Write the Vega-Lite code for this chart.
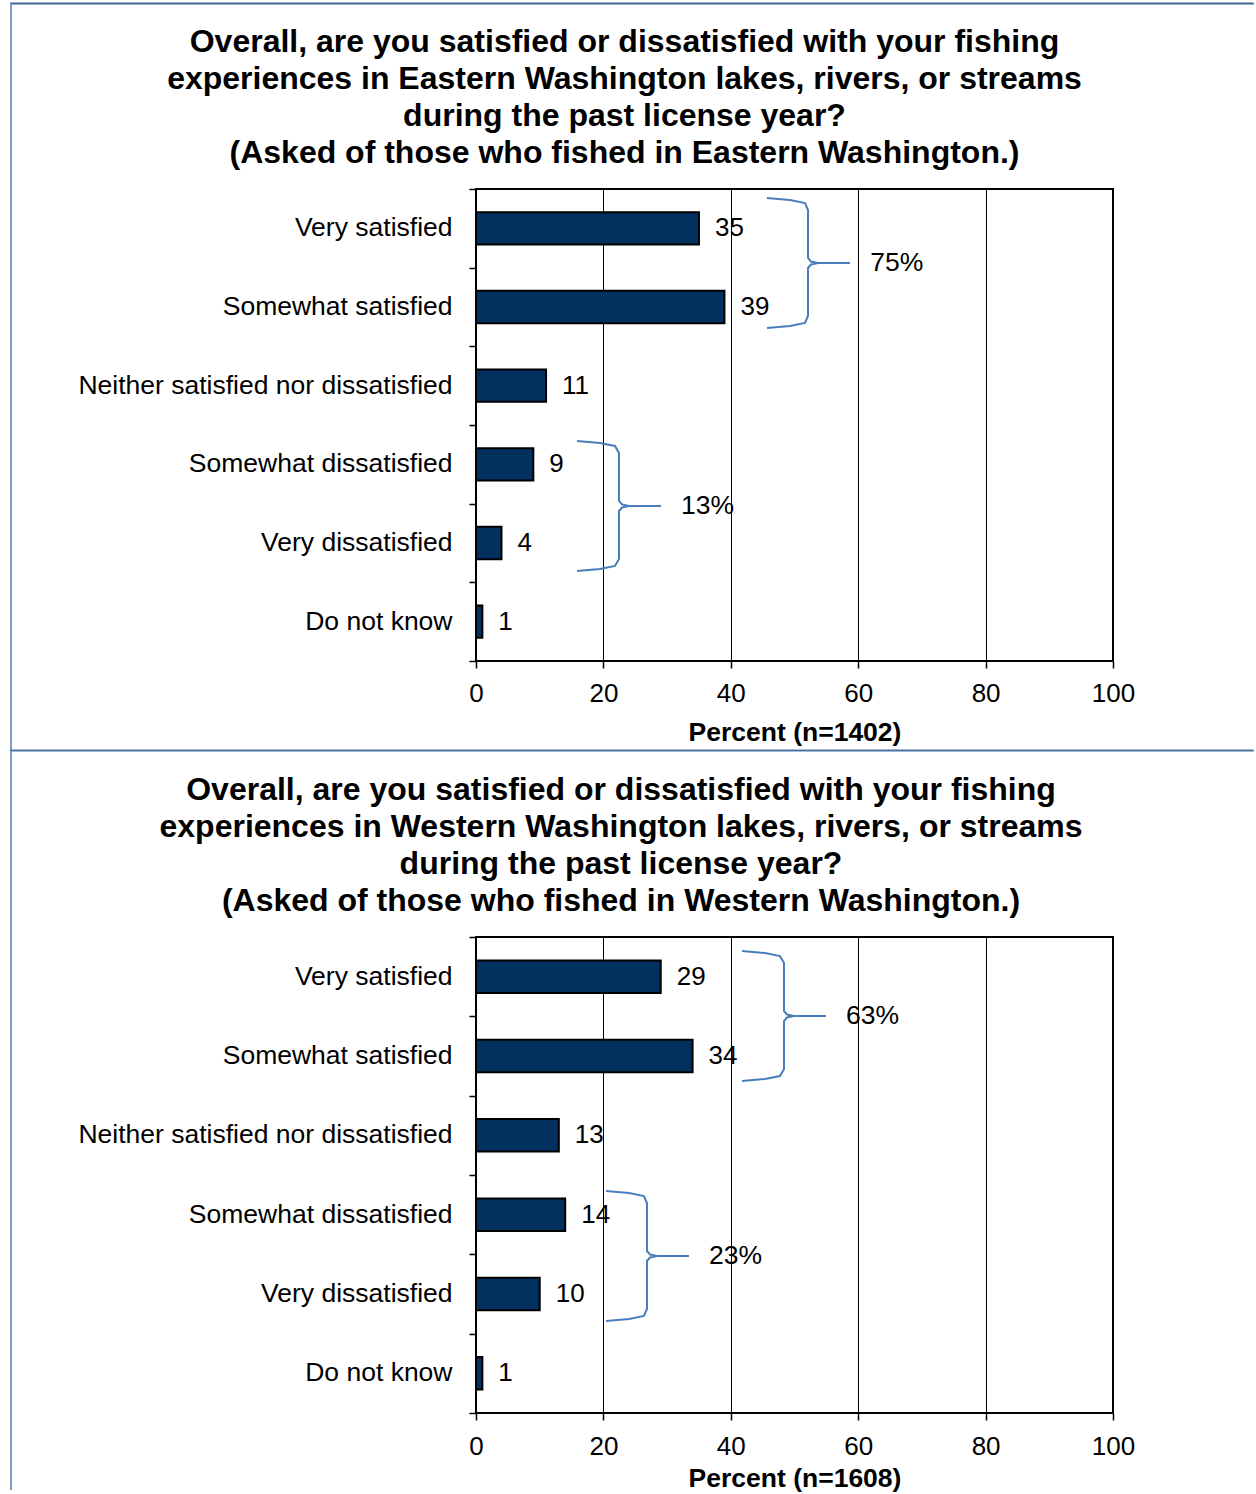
{
  "$schema": "https://vega.github.io/schema/vega-lite/v6.json",
  "background": "white",
  "padding": {"left": 7, "top": 1, "right": 0, "bottom": 0},
  "config": {
    "font": "Liberation Sans",
    "view": {"stroke": "black", "strokeWidth": 2},
    "axis": {"labelFont": "Liberation Sans", "titleFont": "Liberation Sans", "labelColor": "black", "titleColor": "black", "labelFontSize": 26.5, "titleFontSize": 26.5, "titleFontWeight": "bold"},
    "axisX": {"labelFontSize": 26},
    "title": {"font": "Liberation Sans", "color": "black"}
  },
  "datasets": {
    "east": [
      {"category": "Very satisfied", "percent": 35},
      {"category": "Somewhat satisfied", "percent": 39},
      {"category": "Neither satisfied nor dissatisfied", "percent": 11},
      {"category": "Somewhat dissatisfied", "percent": 9},
      {"category": "Very dissatisfied", "percent": 4},
      {"category": "Do not know", "percent": 1}
    ],
    "west": [
      {"category": "Very satisfied", "percent": 29},
      {"category": "Somewhat satisfied", "percent": 34},
      {"category": "Neither satisfied nor dissatisfied", "percent": 13},
      {"category": "Somewhat dissatisfied", "percent": 14},
      {"category": "Very dissatisfied", "percent": 10},
      {"category": "Do not know", "percent": 1}
    ],
    "eastBrace": [
      {"g": 1, "o": 1, "x": 45.68, "y": 0.114},
      {"g": 1, "o": 2, "x": 49.29, "y": 0.140},
      {"g": 1, "o": 3, "x": 51.65, "y": 0.178},
      {"g": 1, "o": 4, "x": 52.12, "y": 0.267},
      {"g": 1, "o": 5, "x": 52.12, "y": 0.877},
      {"g": 1, "o": 6, "x": 52.59, "y": 0.922},
      {"g": 1, "o": 7, "x": 53.69, "y": 0.941},
      {"g": 1, "o": 8, "x": 58.71, "y": 0.941},
      {"g": 1, "o": 9, "x": 53.69, "y": 0.941},
      {"g": 1, "o": 10, "x": 52.59, "y": 0.960},
      {"g": 1, "o": 11, "x": 52.12, "y": 1.004},
      {"g": 1, "o": 12, "x": 52.12, "y": 1.614},
      {"g": 1, "o": 13, "x": 51.65, "y": 1.703},
      {"g": 1, "o": 14, "x": 49.29, "y": 1.741},
      {"g": 1, "o": 15, "x": 45.68, "y": 1.767},
      {"g": 2, "o": 1, "x": 15.86, "y": 3.203},
      {"g": 2, "o": 2, "x": 19.47, "y": 3.229},
      {"g": 2, "o": 3, "x": 21.82, "y": 3.267},
      {"g": 2, "o": 4, "x": 22.45, "y": 3.356},
      {"g": 2, "o": 5, "x": 22.45, "y": 3.966},
      {"g": 2, "o": 6, "x": 22.92, "y": 4.010},
      {"g": 2, "o": 7, "x": 24.02, "y": 4.030},
      {"g": 2, "o": 8, "x": 29.04, "y": 4.030},
      {"g": 2, "o": 9, "x": 24.02, "y": 4.030},
      {"g": 2, "o": 10, "x": 22.92, "y": 4.049},
      {"g": 2, "o": 11, "x": 22.45, "y": 4.093},
      {"g": 2, "o": 12, "x": 22.45, "y": 4.703},
      {"g": 2, "o": 13, "x": 21.82, "y": 4.792},
      {"g": 2, "o": 14, "x": 19.47, "y": 4.830},
      {"g": 2, "o": 15, "x": 15.86, "y": 4.856}
    ],
    "westBrace": [
      {"g": 1, "o": 1, "x": 41.76, "y": 0.176},
      {"g": 1, "o": 2, "x": 45.37, "y": 0.202},
      {"g": 1, "o": 3, "x": 47.72, "y": 0.240},
      {"g": 1, "o": 4, "x": 48.35, "y": 0.328},
      {"g": 1, "o": 5, "x": 48.35, "y": 0.933},
      {"g": 1, "o": 6, "x": 48.82, "y": 0.977},
      {"g": 1, "o": 7, "x": 49.92, "y": 0.996},
      {"g": 1, "o": 8, "x": 54.95, "y": 0.996},
      {"g": 1, "o": 9, "x": 49.92, "y": 0.996},
      {"g": 1, "o": 10, "x": 48.82, "y": 1.015},
      {"g": 1, "o": 11, "x": 48.35, "y": 1.059},
      {"g": 1, "o": 12, "x": 48.35, "y": 1.664},
      {"g": 1, "o": 13, "x": 47.72, "y": 1.752},
      {"g": 1, "o": 14, "x": 45.37, "y": 1.790},
      {"g": 1, "o": 15, "x": 41.76, "y": 1.815},
      {"g": 2, "o": 1, "x": 20.41, "y": 3.202},
      {"g": 2, "o": 2, "x": 24.02, "y": 3.227},
      {"g": 2, "o": 3, "x": 26.37, "y": 3.265},
      {"g": 2, "o": 4, "x": 26.84, "y": 3.353},
      {"g": 2, "o": 5, "x": 26.84, "y": 3.958},
      {"g": 2, "o": 6, "x": 27.32, "y": 4.002},
      {"g": 2, "o": 7, "x": 28.41, "y": 4.021},
      {"g": 2, "o": 8, "x": 33.44, "y": 4.021},
      {"g": 2, "o": 9, "x": 28.41, "y": 4.021},
      {"g": 2, "o": 10, "x": 27.32, "y": 4.040},
      {"g": 2, "o": 11, "x": 26.84, "y": 4.084},
      {"g": 2, "o": 12, "x": 26.84, "y": 4.689},
      {"g": 2, "o": 13, "x": 26.37, "y": 4.777},
      {"g": 2, "o": 14, "x": 24.02, "y": 4.815},
      {"g": 2, "o": 15, "x": 20.41, "y": 4.840}
    ],
    "eastBraceLabel": [
      {"label": "75%", "x": 61.9, "y": 0.94},
      {"label": "13%", "x": 32.2, "y": 4.03}
    ],
    "westBraceLabel": [
      {"label": "63%", "x": 58.08, "y": 1.0},
      {"label": "23%", "x": 36.58, "y": 4.02}
    ],
    "eastFrame": [
      {"part": "top", "x": -73.16, "x2": 122.1, "y": -2.358, "y2": -2.358},
      {"part": "left", "x": -73.0, "x2": -73.0, "y": -2.358, "y2": 7.138},
      {"part": "middle", "x": -73.16, "x2": 122.1, "y": 7.138, "y2": 7.138}
    ],
    "westFrame": [
      {"part": "left", "x": -73.0, "x2": -73.0, "y": -2.345, "y2": 6.97}
    ]
  },
  "spacing": -5,
  "vconcat": [
    {
      "title": {
        "text": ["Overall, are you satisfied or dissatisfied with your fishing", "experiences in Eastern Washington lakes, rivers, or streams", "during the past license year?", "(Asked of those who fished in Eastern Washington.)"],
        "fontSize": 32, "fontWeight": "bold", "lineHeight": 37, "anchor": "middle", "frame": "group", "dx": -170, "offset": -167.5, "color": "black"
      },
      "width": 637,
      "height": 472,
      "resolve": {"scale": {"y": "independent", "color": "independent"}, "axis": {"y": "independent"}},
      "layer": [
        {
          "data": {"name": "eastFrame"},
          "mark": {"type": "rule", "strokeWidth": 2, "clip": false},
          "encoding": {
            "x": {"field": "x", "type": "quantitative"},
            "x2": {"field": "x2"},
            "y": {"field": "y", "type": "quantitative", "scale": {"domain": [0, 6], "reverse": true, "nice": false, "zero": false}, "axis": null},
            "y2": {"field": "y2"},
            "color": {"field": "part", "type": "nominal", "scale": {"domain": ["top", "left", "middle"], "range": ["#3d6494", "#7f9fc2", "#4a71a3"]}, "legend": null}
          }
        },
        {
          "data": {"name": "east"},
          "mark": {"type": "bar", "fill": "#02305f", "stroke": "black", "strokeWidth": 2},
          "encoding": {
            "y": {"field": "category", "type": "nominal", "sort": null, "scale": {"paddingInner": 0.59, "paddingOuter": 0.295}, "axis": {"title": null, "ticks": false, "domain": false, "labelPadding": 24, "labelFontSize": 26.5, "labelColor": "black", "labelLimit": 600}},
            "x": {"field": "percent", "type": "quantitative", "scale": {"domain": [0, 100], "nice": false}, "axis": {"values": [0, 20, 40, 60, 80, 100], "grid": true, "gridColor": "black", "gridWidth": 1, "gridOpacity": 1, "tickColor": "black", "tickSize": 7, "tickWidth": 1.5, "domain": false, "labelPadding": 12, "labelFlush": false, "title": "Percent (n=1402)", "titlePadding": 13.5}}
          }
        },
        {
          "data": {"name": "east"},
          "mark": {"type": "text", "align": "left", "baseline": "middle", "dx": 16, "fontSize": 26, "color": "black"},
          "encoding": {
            "y": {"field": "category", "type": "nominal", "sort": null, "scale": {"paddingInner": 0.59, "paddingOuter": 0.295}, "axis": null},
            "x": {"field": "percent", "type": "quantitative"},
            "text": {"field": "percent", "type": "quantitative"}
          }
        },
        {
          "data": {"name": "eastBrace"},
          "mark": {"type": "line", "stroke": "#4a7ebb", "strokeWidth": 2, "clip": false},
          "encoding": {
            "x": {"field": "x", "type": "quantitative"},
            "y": {"field": "y", "type": "quantitative", "scale": {"domain": [0, 6], "reverse": true, "nice": false, "zero": false}, "axis": {"values": [0, 1, 2, 3, 4, 5, 6], "labels": false, "ticks": true, "tickSize": 7, "tickColor": "black", "tickWidth": 1.5, "domain": false, "grid": false, "title": null, "orient": "left"}},
            "order": {"field": "o", "type": "quantitative"},
            "detail": {"field": "g", "type": "nominal"}
          }
        },
        {
          "data": {"name": "eastBraceLabel"},
          "mark": {"type": "text", "align": "left", "baseline": "middle", "fontSize": 26.5, "color": "black"},
          "encoding": {
            "x": {"field": "x", "type": "quantitative"},
            "y": {"field": "y", "type": "quantitative", "scale": {"domain": [0, 6], "reverse": true, "nice": false, "zero": false}, "axis": null},
            "text": {"field": "label", "type": "nominal"}
          }
        }
      ]
    },
    {
      "title": {
        "text": ["Overall, are you satisfied or dissatisfied with your fishing", "experiences in Western Washington lakes, rivers, or streams", "during the past license year?", "(Asked of those who fished in Western Washington.)"],
        "fontSize": 32, "fontWeight": "bold", "lineHeight": 37, "anchor": "middle", "frame": "group", "dx": -173.5, "offset": -168, "color": "black"
      },
      "width": 637,
      "height": 476,
      "resolve": {"scale": {"y": "independent"}, "axis": {"y": "independent"}},
      "layer": [
        {
          "data": {"name": "westFrame"},
          "mark": {"type": "rule", "strokeWidth": 2, "stroke": "#7f9fc2", "clip": false},
          "encoding": {
            "x": {"field": "x", "type": "quantitative"},
            "x2": {"field": "x2"},
            "y": {"field": "y", "type": "quantitative", "scale": {"domain": [0, 6], "reverse": true, "nice": false, "zero": false}, "axis": null},
            "y2": {"field": "y2"}
          }
        },
        {
          "data": {"name": "west"},
          "mark": {"type": "bar", "fill": "#02305f", "stroke": "black", "strokeWidth": 2},
          "encoding": {
            "y": {"field": "category", "type": "nominal", "sort": null, "scale": {"paddingInner": 0.59, "paddingOuter": 0.295}, "axis": {"title": null, "ticks": false, "domain": false, "labelPadding": 24, "labelFontSize": 26.5, "labelColor": "black", "labelLimit": 600}},
            "x": {"field": "percent", "type": "quantitative", "scale": {"domain": [0, 100], "nice": false}, "axis": {"values": [0, 20, 40, 60, 80, 100], "grid": true, "gridColor": "black", "gridWidth": 1, "gridOpacity": 1, "tickColor": "black", "tickSize": 7, "tickWidth": 1.5, "domain": false, "labelPadding": 13, "labelFlush": false, "title": "Percent (n=1608)", "titlePadding": 6.5}}
          }
        },
        {
          "data": {"name": "west"},
          "mark": {"type": "text", "align": "left", "baseline": "middle", "dx": 16, "fontSize": 26, "color": "black"},
          "encoding": {
            "y": {"field": "category", "type": "nominal", "sort": null, "scale": {"paddingInner": 0.59, "paddingOuter": 0.295}, "axis": null},
            "x": {"field": "percent", "type": "quantitative"},
            "text": {"field": "percent", "type": "quantitative"}
          }
        },
        {
          "data": {"name": "westBrace"},
          "mark": {"type": "line", "stroke": "#4a7ebb", "strokeWidth": 2, "clip": false},
          "encoding": {
            "x": {"field": "x", "type": "quantitative"},
            "y": {"field": "y", "type": "quantitative", "scale": {"domain": [0, 6], "reverse": true, "nice": false, "zero": false}, "axis": {"values": [0, 1, 2, 3, 4, 5, 6], "labels": false, "ticks": true, "tickSize": 7, "tickColor": "black", "tickWidth": 1.5, "domain": false, "grid": false, "title": null, "orient": "left"}},
            "order": {"field": "o", "type": "quantitative"},
            "detail": {"field": "g", "type": "nominal"}
          }
        },
        {
          "data": {"name": "westBraceLabel"},
          "mark": {"type": "text", "align": "left", "baseline": "middle", "fontSize": 26.5, "color": "black"},
          "encoding": {
            "x": {"field": "x", "type": "quantitative"},
            "y": {"field": "y", "type": "quantitative", "scale": {"domain": [0, 6], "reverse": true, "nice": false, "zero": false}, "axis": null},
            "text": {"field": "label", "type": "nominal"}
          }
        }
      ]
    }
  ]
}
